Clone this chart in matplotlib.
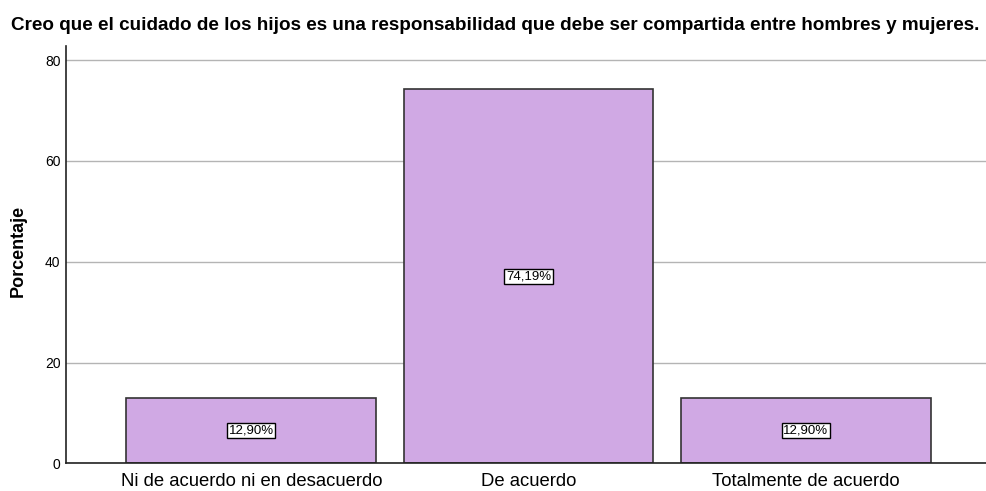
import matplotlib
matplotlib.use("Agg")
import matplotlib.pyplot as plt

categories = ["Ni de acuerdo ni en desacuerdo", "De acuerdo", "Totalmente de acuerdo"]
values = [12.90, 74.19, 12.90]
value_labels = ["12,90%", "74,19%", "12,90%"]
yticks = [0, 20, 40, 60, 80]

plt.rcParams['font.family'] = ['Liberation Sans', 'DejaVu Sans']

fig = plt.figure(figsize=(9.87, 4.91), dpi=100)
ax = fig.add_axes([66/987, 1-463.3/491, 1-66/987, (463.3-46)/491])

x = list(range(len(categories)))
ax.set_axisbelow(True)
ax.yaxis.grid(True, color='#b4b4b4', linewidth=1)
bars = ax.bar(x, values, width=0.9, color='#D0A9E4', edgecolor='#333333', linewidth=1.2, zorder=2)
for xi, v, lab in zip(x, values, value_labels):
    ax.text(xi, v/2, lab, ha='center', va='center', fontsize=9.5, zorder=3,
            bbox=dict(boxstyle='square,pad=0.12', facecolor='white', edgecolor='black', linewidth=1))

ax.set_xlim(-0.668, 2.653)
ax.set_ylim(0, 82.8)
ax.set_yticks(yticks)
ax.set_yticklabels([str(t) for t in yticks], fontsize=10)
ax.set_xticks(x)
ax.set_xticklabels(categories, fontsize=13.3)
ax.tick_params(axis='x', length=0, pad=7)
ax.tick_params(axis='y', length=0, pad=4)
for s in ['top', 'right']:
    ax.spines[s].set_visible(False)
for s in ['left', 'bottom']:
    ax.spines[s].set_color('#222222')
    ax.spines[s].set_linewidth(1.2)
ax.set_ylabel("Porcentaje", fontsize=13, fontweight='bold')
ax.yaxis.set_label_coords((27-66)/921, (463.3-251)/(463.3-46))
fig.text(495/987, 1-25/491, "Creo que el cuidado de los hijos es una responsabilidad que debe ser compartida entre hombres y mujeres.",
         ha='center', va='center', fontsize=13.6, fontweight='bold')

fig.savefig("out.png", dpi=100)
